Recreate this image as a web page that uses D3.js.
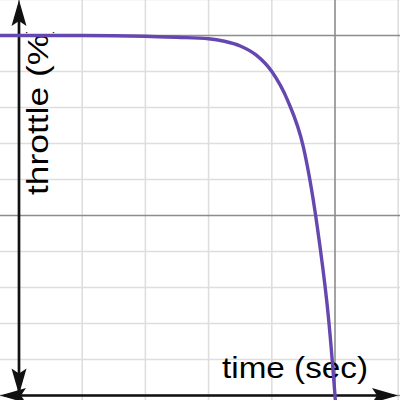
<!DOCTYPE html>
<html>
<head>
<meta charset="utf-8">
<script src="https://cdn.jsdelivr.net/npm/d3@7"></script>
<style>
  html, body { margin: 0; padding: 0; background: #fff; }
  svg { display: block; }
  text { font-family: Arial, "Liberation Sans", sans-serif; fill: #000; }
</style>
</head>
<body>
<script>
// values
const time = [-0.5, 0, 1, 2, 2.5, 3, 3.25, 3.5, 3.75, 4, 4.25, 4.5, 4.75, 4.9, 5, 5.05];
const throttle = [100, 100, 100, 99.8, 99.5, 99.1, 98.4, 97.1, 94.6, 90, 82, 69, 43, 21, 0, -12];
const xMinor = [-1, 0, 1, 2, 3, 4, 5, 6, 7];
const xMajor = [0, 5];
const yMinor = [0, 10, 20, 30, 40, 50, 60, 70, 80, 90, 100, 110];
const yMajor = [0, 50, 100];

const width = 400;
const height = 400;

const svg = d3.select('body').append('svg')
  .attr('width', width)
  .attr('height', height);

const x = d3.scaleLinear().domain([0, 5]).range([19, 335]);
const y = d3.scaleLinear().domain([0, 100]).range([395.5, 35.5]);

const grid = svg.append('g');

// minor grid
grid.selectAll('line.vmin')
  .data(xMinor.filter(d => !xMajor.includes(d)))
  .enter().append('line')
  .attr('x1', d => x(d)).attr('x2', d => x(d))
  .attr('y1', 0).attr('y2', height)
  .attr('stroke', '#dedede').attr('stroke-width', 1.6);
grid.selectAll('line.hmin')
  .data(yMinor.filter(d => !yMajor.includes(d)))
  .enter().append('line')
  .attr('y1', d => y(d)).attr('y2', d => y(d))
  .attr('x1', 0).attr('x2', width)
  .attr('stroke', '#dedede').attr('stroke-width', 1.6);

// major grid
grid.selectAll('line.vmaj')
  .data(xMajor)
  .enter().append('line')
  .attr('x1', d => x(d)).attr('x2', d => x(d))
  .attr('y1', 0).attr('y2', height)
  .attr('stroke', '#8c8c8c').attr('stroke-width', 1.6);
grid.selectAll('line.hmaj')
  .data(yMajor)
  .enter().append('line')
  .attr('y1', d => y(d)).attr('y2', d => y(d))
  .attr('x1', 0).attr('x2', width)
  .attr('stroke', '#8c8c8c').attr('stroke-width', 1.6);

// axis labels (stretched, like the picture)
svg.append('text')
  .attr('x', 222)
  .attr('y', 378)
  .attr('font-size', 30)
  .attr('textLength', 146)
  .attr('lengthAdjust', 'spacingAndGlyphs')
  .text('time (sec)');

// the closing paren runs under the 100% line in the picture
svg.append('clipPath')
  .attr('id', 'ylabel-clip')
  .append('rect')
  .attr('x', 0).attr('y', 32)
  .attr('width', 100).attr('height', 200);

svg.append('g')
  .attr('clip-path', 'url(#ylabel-clip)')
  .append('text')
  .attr('transform', 'translate(48,195) rotate(-90)')
  .attr('font-size', 30)
  .attr('textLength', 173)
  .attr('lengthAdjust', 'spacingAndGlyphs')
  .text('throttle (%)');

// axes with arrows
const axisColor = '#111';
const x0 = x(0);
const y0 = y(0);
svg.append('line')
  .attr('x1', 4).attr('x2', width - 6)
  .attr('y1', y0).attr('y2', y0)
  .attr('stroke', axisColor).attr('stroke-width', 2.7);
svg.append('line')
  .attr('x1', x0).attr('x2', x0)
  .attr('y1', 6).attr('y2', height)
  .attr('stroke', axisColor).attr('stroke-width', 2.7);

const arrow = 'M0,0 L-7.5,26 L0,21 L7.5,26 Z';
const arrows = [
  { x: x0, y: 0, a: 0 },
  { x: x0, y: y0 - 1, a: 180 },
  { x: 0, y: y0, a: -90 },
  { x: 398, y: y0, a: 90 },
];
svg.selectAll('path.arrow')
  .data(arrows)
  .enter().append('path')
  .attr('d', arrow)
  .attr('transform', d => `translate(${d.x},${d.y}) rotate(${d.a})`)
  .attr('fill', axisColor);

// curve
const line = d3.line()
  .x(d => x(d[0]))
  .y(d => y(d[1]))
  .curve(d3.curveMonotoneX);

svg.append('path')
  .datum(d3.zip(time, throttle))
  .attr('d', line)
  .attr('fill', 'none')
  .attr('stroke', '#6547b0')
  .attr('stroke-width', 3.4);
</script>
</body>
</html>
